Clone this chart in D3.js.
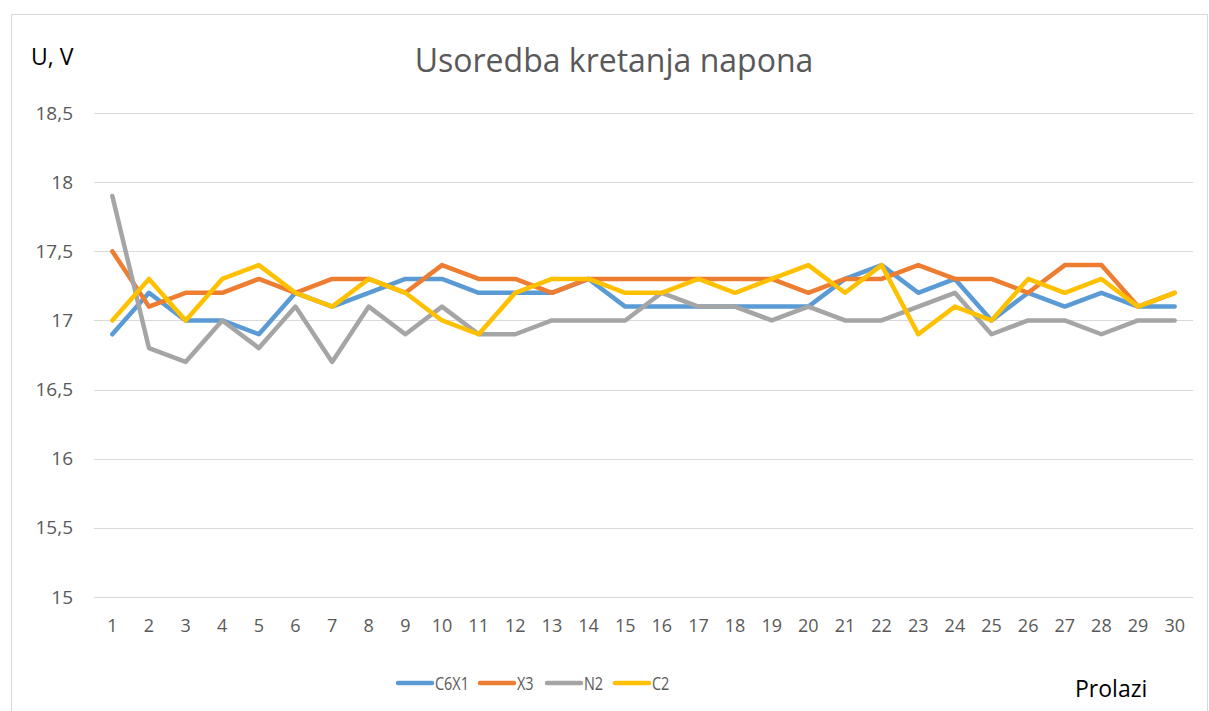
<!DOCTYPE html>
<html>
<head>
<meta charset="utf-8">
<script src="https://cdn.jsdelivr.net/npm/d3@7"></script>
<style>
  html, body { margin: 0; padding: 0; background: #fff; }
  svg { display: block; font-family: "Open Sans", sans-serif; }
</style>
</head>
<body>
<svg id="chart" width="1209" height="711"></svg>
<script>
// Passes 1..30 along the x axis
const categories = d3.range(1, 31).map(String);
const yTicks = [15, 15.5, 16, 16.5, 17, 17.5, 18, 18.5];

const c6x1 = [16.9,17.2,17.0,17.0,16.9,17.2,17.1,17.2,17.3,17.3,17.2,17.2,17.2,17.3,17.1,17.1,17.1,17.1,17.1,17.1,17.3,17.4,17.2,17.3,17.0,17.2,17.1,17.2,17.1,17.1];
const x3   = [17.5,17.1,17.2,17.2,17.3,17.2,17.3,17.3,17.2,17.4,17.3,17.3,17.2,17.3,17.3,17.3,17.3,17.3,17.3,17.2,17.3,17.3,17.4,17.3,17.3,17.2,17.4,17.4,17.1,17.2];
const n2   = [17.9,16.8,16.7,17.0,16.8,17.1,16.7,17.1,16.9,17.1,16.9,16.9,17.0,17.0,17.0,17.2,17.1,17.1,17.0,17.1,17.0,17.0,17.1,17.2,16.9,17.0,17.0,16.9,17.0,17.0];
const c2   = [17.0,17.3,17.0,17.3,17.4,17.2,17.1,17.3,17.2,17.0,16.9,17.2,17.3,17.3,17.2,17.2,17.3,17.2,17.3,17.4,17.2,17.4,16.9,17.1,17.0,17.3,17.2,17.3,17.1,17.2];

const seriesNames = ["C6X1", "X3", "N2", "C2"];
const seriesColors = ["#5B9BD5", "#ED7D31", "#A5A5A5", "#FFC000"];
const seriesValues = [c6x1, x3, n2, c2];

const svg = d3.select("#chart");

// chart frame
svg.append("rect")
  .attr("x", 11.5).attr("y", 14.5)
  .attr("width", 1196).attr("height", 720)
  .attr("fill", "#fff").attr("stroke", "#d9d9d9").attr("stroke-width", 1);

const x = d3.scaleBand().domain(categories).range([94, 1193]);
const y = d3.scaleLinear().domain([15, 18.5]).range([597, 113]);

// horizontal gridlines
svg.append("g").selectAll("line").data(yTicks).join("line")
  .attr("x1", 94).attr("x2", 1193)
  .attr("y1", d => Math.round(y(d)) + 0.5).attr("y2", d => Math.round(y(d)) + 0.5)
  .attr("stroke", "#d9d9d9").attr("stroke-width", 1);

// y axis labels
const yAxis = d3.axisLeft(y).tickValues(yTicks).tickSize(0).tickPadding(0)
  .tickFormat(d => String(d).replace(".", ","));
const gy = svg.append("g").attr("transform", "translate(73,0)").call(yAxis);
gy.select(".domain").remove();
gy.selectAll("text").attr("fill", "#595959").style("font-size", "19px")
  .style("font-family", "'Open Sans', sans-serif");

// x axis labels
const xAxis = d3.axisBottom(x).tickSize(0).tickPadding(0);
const gx = svg.append("g").attr("transform", "translate(0,619)").call(xAxis);
gx.select(".domain").remove();
gx.selectAll("text").attr("fill", "#595959").style("font-size", "18px")
  .style("font-family", "'Open Sans', sans-serif");

// lines
const line = d3.line()
  .x((d, i) => x(categories[i]) + x.bandwidth() / 2)
  .y(d => y(d));

seriesValues.forEach((vals, k) => {
  svg.append("path")
    .datum(vals)
    .attr("d", line)
    .attr("fill", "none")
    .attr("stroke", seriesColors[k])
    .attr("stroke-width", 4.5)
    .attr("stroke-linejoin", "round")
    .attr("stroke-linecap", "round");
});

// title
svg.append("text")
  .attr("x", 614).attr("y", 72)
  .attr("text-anchor", "middle")
  .attr("fill", "#595959")
  .style("font-size", "32px")
  .text("Usoredba kretanja napona");

// axis titles
svg.append("text")
  .attr("x", 31).attr("y", 65)
  .attr("fill", "#000")
  .style("font-size", "23px")
  .text("U, V");

svg.append("text")
  .attr("x", 1075).attr("y", 697)
  .attr("fill", "#000")
  .style("font-size", "23px")
  .text("Prolazi");

// legend (labels set in a condensed width)
const legendX = [398, 480, 547, 615];
const legend = svg.append("g");
seriesNames.forEach((name, k) => {
  legend.append("line")
    .attr("x1", legendX[k]).attr("x2", legendX[k] + 34)
    .attr("y1", 683).attr("y2", 683)
    .attr("stroke", seriesColors[k]).attr("stroke-width", 4.5)
    .attr("stroke-linecap", "round");
  legend.append("text")
    .attr("transform", `translate(${legendX[k] + 37},690) scale(0.76,1)`)
    .attr("fill", "#595959")
    .style("font-size", "19px")
    .text(name);
});
</script>
</body>
</html>
